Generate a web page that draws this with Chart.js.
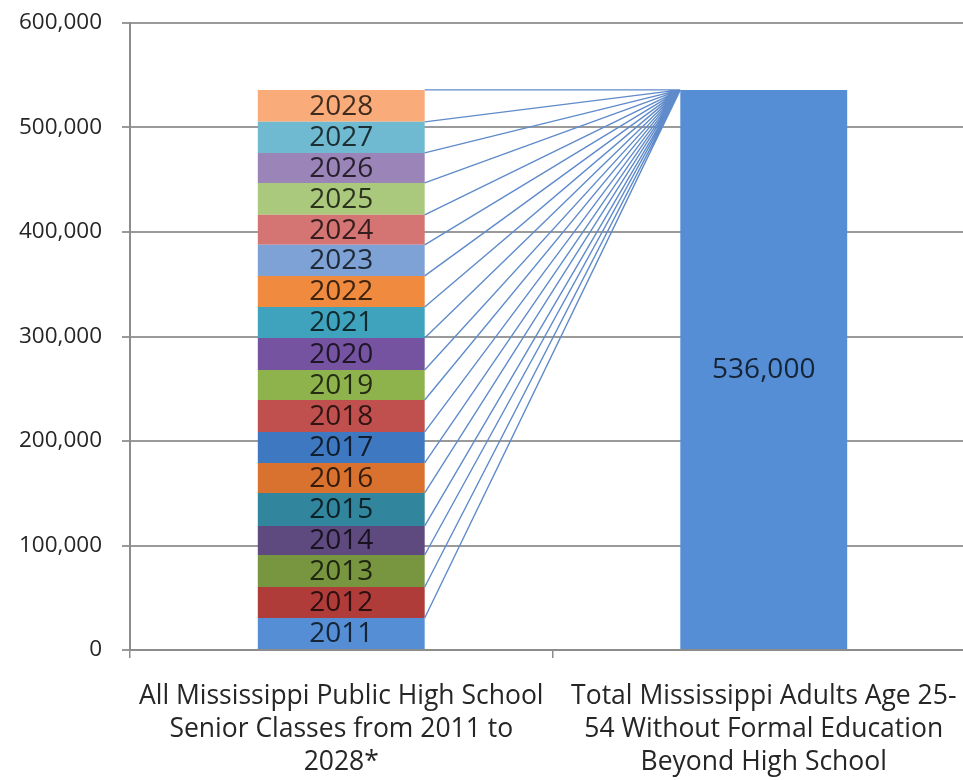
<!DOCTYPE html>
<html>
<head>
<meta charset="utf-8">
<script src="https://cdn.jsdelivr.net/npm/chart.js@4"></script>
<style>
  html, body { margin: 0; padding: 0; background: #fff; overflow: hidden; }
  #wrap { width: 990px; height: 780px; }
</style>
</head>
<body>
<div id="wrap"><canvas id="seniorsChart" width="990" height="780"></canvas></div>
<script>
// Senior classes stacked against adults without education beyond high school
const categories = [
  ['All Mississippi Public High School', 'Senior Classes from 2011 to', '2028*'],
  ['Total Mississippi Adults Age 25-', '54 Without Formal Education', 'Beyond High School']
];
const years = ['2011', '2012', '2013', '2014', '2015', '2016', '2017', '2018', '2019',
               '2020', '2021', '2022', '2023', '2024', '2025', '2026', '2027', '2028'];
const seniors = [30600, 29700, 30600, 27800, 31600, 28700, 29700, 30600, 28700,
                 30600, 29700, 29700, 29700, 28700, 30600, 28700, 29700, 30600];
const totalAdults = 536000;
const yTicks = [0, 100000, 200000, 300000, 400000, 500000, 600000];

const yearColors = ['#558ed5', '#b03c3a', '#77963f', '#5f4a7f', '#31859c', '#d8722e',
                    '#3e78c0', '#c0504d', '#8fb34c', '#7553a0', '#3fa3bd', '#f08a3e',
                    '#7ea2d6', '#d57573', '#abc97c', '#9b84b8', '#6fbad0', '#f9ac7a'];

const font = '"Open Sans", "DejaVu Sans", sans-serif';

const datasets = years.map((yr, i) => ({
  label: yr,
  data: [seniors[i], null],
  backgroundColor: yearColors[i],
  borderWidth: 0,
  stack: 's'
}));
datasets.push({
  label: 'Adults',
  data: [null, totalAdults],
  backgroundColor: '#558ed5',
  borderWidth: 0,
  stack: 's'
});

// connector lines and bar labels
const connectors = {
  id: 'connectors',
  afterDatasetsDraw(chart) {
    const ctx = chart.ctx;
    const ys = chart.scales.y;
    const first = chart.getDatasetMeta(0).data[0];
    const total = chart.getDatasetMeta(years.length).data[1];
    const x0 = first.x + first.width / 2;
    const x1 = total.x - total.width / 2;
    const y1 = ys.getPixelForValue(totalAdults);

    ctx.save();
    ctx.strokeStyle = '#5f8bcb';
    ctx.lineWidth = 1.4;
    ctx.beginPath();
    let cum = 0;
    seniors.forEach(v => {
      cum += v;
      ctx.moveTo(x0, ys.getPixelForValue(cum));
      ctx.lineTo(x1, y1);
    });
    ctx.stroke();

    ctx.font = '28px ' + font;
    ctx.textAlign = 'center';
    ctx.textBaseline = 'middle';
    ctx.fillStyle = 'rgba(0,0,0,0.75)';
    years.forEach((yr, i) => {
      const el = chart.getDatasetMeta(i).data[0];
      ctx.fillText(yr, el.x, (el.y + el.base) / 2 + 1);
    });
    ctx.fillText(totalAdults.toLocaleString('en-US'), total.x, (total.y + total.base) / 2 + 1);
    ctx.restore();
  }
};

let seniorsChart = null;

function initChart() {
  const el = document.getElementById('seniorsChart');
  if (seniorsChart) seniorsChart.destroy();

  seniorsChart = new Chart(el, {
    type: 'bar',
    data: { labels: categories, datasets: datasets },
    options: {
      responsive: false,
      animation: false,
      layout: { autoPadding: false, padding: { left: 14, right: 15, top: 23, bottom: 0 } },
      datasets: { bar: { categoryPercentage: 1, barPercentage: 0.395 } },
      plugins: { legend: { display: false }, tooltip: { enabled: false } },
      scales: {
        x: {
          stacked: true,
          afterFit: axis => { axis.height = 130; axis.paddingLeft = 0; axis.paddingRight = 0; },
          grid: { offset: true, drawOnChartArea: false, drawTicks: true, tickLength: 8, color: '#8c8c8c', lineWidth: 1.5 },
          border: { display: true, color: '#8c8c8c', width: 2 },
          ticks: {
            color: '#262626',
            font: { family: font, size: 26.5, lineHeight: 1.24 },
            maxRotation: 0,
            autoSkip: false,
            padding: 22
          }
        },
        y: {
          stacked: true,
          min: 0,
          max: 600000,
          afterFit: axis => { axis.width = 116; axis.paddingTop = 0; axis.paddingBottom = 0; },
          afterBuildTicks: axis => { axis.ticks = yTicks.map(v => ({ value: v })); },
          grid: { color: '#9a9a9a', lineWidth: 2, tickLength: 8 },
          border: { display: true, color: '#8c8c8c', width: 2 },
          ticks: {
            color: '#262626',
            font: { family: font, size: 22.5 },
            padding: 20,
            callback: v => v.toLocaleString('en-US')
          }
        }
      }
    },
    plugins: [connectors]
  });
}

document.addEventListener('DOMContentLoaded', initChart);
</script>
</body>
</html>
